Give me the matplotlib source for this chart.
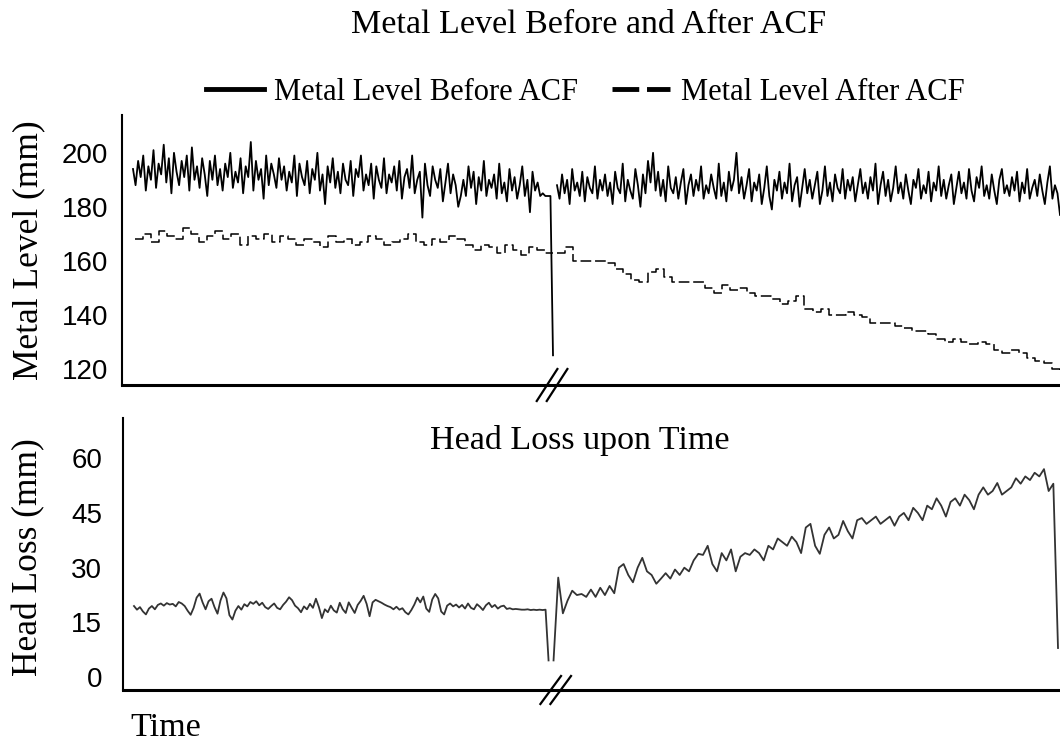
import matplotlib.pyplot as plt
import numpy as np
from matplotlib.lines import Line2D

plt.rcParams['font.family'] = ['Liberation Serif', 'DejaVu Serif']

# metal level before ACF (mm), left part ends with the drop at the break
level_before_left = [
    194, 188, 197, 191, 199, 186, 195, 190, 201, 187, 196, 192, 203, 189, 198, 185, 200, 193, 188, 197,
    191, 199, 186, 202, 190, 195, 187, 198, 192, 184, 197, 190, 199, 188, 194, 186, 196, 191, 200, 187,
    193, 189, 198, 185, 195, 191, 204, 186, 197, 190, 194, 183, 199, 188, 196, 192, 187, 198, 190, 195,
    186, 193, 189, 199, 184, 196, 191, 188, 197, 185, 194, 190, 200, 186, 192, 181, 195, 189, 198, 187,
    193, 185, 196, 190, 188, 197, 184, 194, 191, 199, 186, 192, 188, 196, 183, 195, 190, 187, 198, 185,
    192, 189, 195, 186, 197, 183, 191, 194, 187, 199, 185, 190, 193, 176, 196, 188, 184, 195, 190, 187,
    194, 182, 189, 196, 185, 192, 188, 180, 184, 190, 184, 195, 187, 193, 181, 191, 186, 197, 184, 190,
    187, 192, 183, 196, 185, 189, 182, 194, 186, 191, 183, 188, 195, 184, 190, 178, 193, 186, 189, 184,
    185, 184, 184, 184, 125,
]
level_before_right = [
    188, 183, 192, 185, 190, 181, 194, 186, 189, 184, 193, 182, 191, 187, 185, 195, 183, 190, 186, 192,
    184, 189, 181, 193, 187, 185, 196, 182, 190, 186, 183, 194, 188, 180, 192, 185, 197, 189, 200, 186,
    193, 184, 190, 182, 195, 187, 185, 191, 183, 189, 194, 181, 188, 192, 184, 190, 186, 195, 183, 188,
    185, 192, 187, 183, 196, 184, 189, 182, 193, 186, 190, 200, 185, 191, 183, 188, 194, 182, 189, 186,
    192, 181, 187, 195, 184, 179, 190, 186, 193, 183, 189, 185, 196, 182, 188, 191, 180, 187, 194, 185,
    190, 183, 188, 193, 181, 186, 195, 184, 189, 182, 192, 187, 185, 194, 183, 190, 186, 191, 182, 188,
    194, 185, 189, 183, 191, 186, 196, 181, 188, 193, 184, 190, 182, 187, 195, 185, 189, 183, 192, 186,
    181, 190, 187, 194, 183, 188, 185, 193, 182, 189, 186, 195, 184, 190, 183, 188, 192, 181, 187, 193,
    185, 189, 183, 194, 186, 182, 191, 187, 195, 184, 188, 183, 192, 186, 181, 190, 194, 185, 188, 184,
    191, 186, 193, 182, 189, 185, 194, 183, 187, 190, 184, 192, 186, 181, 189, 195, 183, 188, 185, 177,
]

# metal level after ACF (mm)
level_after_left = [
    168, 170, 167, 171, 169, 168, 172, 170, 167, 169, 171, 168, 170, 166, 169, 168, 170, 167, 169, 168,
    166, 168, 167, 165, 169, 167, 168, 166, 167, 169, 168, 166, 167, 168, 170, 167, 166, 168, 167, 169,
    168, 166, 164, 166, 165, 163, 166, 164, 162, 165, 164, 163, 163,
]
level_after_right = [
    163, 165, 160, 160, 160, 160, 159, 157, 155, 153, 152, 156, 157, 154, 152, 152, 152, 152, 150, 148,
    151, 149, 150, 148, 147, 147, 146, 144, 145, 147, 142, 141, 142, 140, 140, 141, 140, 139, 137, 137,
    137, 136, 135, 134, 134, 133, 131, 130, 131, 130, 129, 130, 129, 127, 126, 127, 126, 124, 123, 122,
    120, 119,
]

# head loss (mm)
head_loss_left = [
    19.5, 18.5, 19.2, 18.0, 17.2, 18.8, 19.5, 18.6, 19.8, 20.2, 19.6, 20.3, 19.9, 20.1, 19.4, 20.6, 20.2, 19.5, 18.2, 17.1,
    19.0, 21.8, 22.9, 20.5, 18.6, 20.8, 21.5, 19.2, 17.4, 21.0, 23.2, 21.6, 17.0, 15.8, 18.2, 19.5, 18.5, 20.0, 19.4, 20.6,
    20.1, 20.8, 19.7, 20.4, 19.2, 18.7, 19.5, 20.2, 19.0, 18.6, 19.8, 20.7, 21.9, 21.1, 19.6, 18.9, 17.8, 19.4, 18.6, 20.1,
    19.0, 21.5, 19.2, 16.2, 18.6, 17.8, 19.6, 18.3, 17.7, 20.4, 18.6, 17.6, 20.5, 19.0, 17.6, 19.8, 20.9, 22.3, 20.1, 16.7,
    20.5, 21.2, 20.8, 20.4, 19.9, 19.5, 19.2, 18.6, 19.3, 18.5, 18.9, 17.8, 17.2, 18.4, 19.9, 21.8, 20.5, 22.1, 18.8, 17.9,
    21.3, 22.8, 21.6, 18.0, 17.2, 19.6, 20.2, 19.4, 19.9, 19.1, 19.8, 18.8, 20.2, 19.0, 18.6, 20.0, 19.3, 18.4, 19.7, 20.4,
    19.2, 19.8, 18.8, 19.4, 19.6, 18.7, 18.9, 18.6, 18.7, 18.6, 18.5, 18.5, 18.6, 18.4, 18.5, 18.4, 18.5, 18.4, 18.5, 4.6,
]
head_loss_right = [
    4.6, 27.3, 17.5, 21, 23.7, 22.5, 22.8, 22, 24, 22,
    24.5, 22.5, 25, 23, 30, 31, 28, 26, 30, 32.7,
    29, 28, 25.6, 27, 28.5, 27, 29.5, 28, 30, 29,
    32, 33.8, 33.5, 36, 31, 29, 34, 32, 35, 29,
    33, 34, 33.5, 35, 34, 32, 36, 35, 38, 37,
    36, 38.5, 37, 34, 41, 42, 36, 33.8, 39, 41,
    38, 39, 42.8, 40, 38, 43, 43.6, 42, 43, 44,
    42, 43, 44, 41.5, 44, 45, 43, 46.4, 45, 43,
    47, 46, 49, 47, 44, 48, 49, 47, 50, 48.5,
    46, 50, 52, 50, 51, 53.2, 50, 51, 52, 54.5,
    53, 55, 54, 56, 55, 57, 51, 53, 8,
]

top_ticks = [120, 140, 160, 180, 200]
bottom_ticks = [0, 15, 30, 45, 60]

# time axis, arbitrary units (the break sits around t = 430)
T_END = 938
t_before_left = np.linspace(11, 431, len(level_before_left))
t_before_right = np.linspace(435, 938, len(level_before_right))
t_after_left = np.linspace(13, 431, len(level_after_left))
t_after_right = np.linspace(435, 938, len(level_after_right))
t_head_left = np.linspace(11, 426, len(head_loss_left))
t_head_right = np.linspace(431, 936, len(head_loss_right))

fig = plt.figure(figsize=(10.6, 7.42), dpi=100)
ax1 = fig.add_axes([122 / 1060, 1 - 385 / 742, 938 / 1060, 270 / 742])
ax2 = fig.add_axes([123 / 1060, 1 - 690 / 742, 937 / 1060, 272 / 742])

ax1.plot(t_before_left, level_before_left, color='black', lw=1.3)
ax1.plot(t_before_right, level_before_right, color='black', lw=1.3)
dash = (0, (7, 2.5))
ax1.plot(t_after_left, level_after_left, color='black', lw=1.1, ls=dash, drawstyle='steps-post')
ax1.plot(t_after_right, level_after_right, color='black', lw=1.1, ls=dash, drawstyle='steps-post')
ax1.set_ylim(114, 214)
ax1.set_yticks(top_ticks)

ax2.plot(t_head_left, head_loss_left, color='#333333', lw=1.3)
ax2.plot(t_head_right, head_loss_right, color='#333333', lw=1.3)
ax2.set_ylim(-3.5, 71)
ax2.set_yticks(bottom_ticks)

for ax, pad in ((ax1, 10), (ax2, 15)):
    ax.set_xlim(0, T_END)
    ax.set_xticks([])
    ax.spines[['top', 'right']].set_visible(False)
    ax.spines['left'].set_linewidth(1.5)
    ax.spines['bottom'].set_linewidth(2.2)
    ax.tick_params(axis='y', length=0, pad=pad, labelsize=20)
    for lab in ax.get_yticklabels():
        lab.set_family('Liberation Sans')

# axis break marks
for ax, xc, h in ((ax1, 0.4585, 16 / 270), (ax2, 0.4618, 14 / 272)):
    for off in (-5 / 938, 5 / 938):
        ax.plot([xc + off - 0.011, xc + off + 0.011], [-h, h], transform=ax.transAxes,
                color='black', lw=1.6, clip_on=False)

fig.text(589 / 1060, 1 - 25 / 742, 'Metal Level Before and After ACF', ha='center', va='center', fontsize=24.5)
ax2.text(580 / 1060, 1 - 441 / 742, 'Head Loss upon Time', transform=fig.transFigure,
         ha='center', va='center', fontsize=24.5)
fig.text(29 / 1060, 1 - 250 / 742, 'Metal Level (mm)', rotation=90, ha='center', va='center', fontsize=25.5)
fig.text(29 / 1060, 1 - 557 / 742, 'Head Loss (mm)', rotation=90, ha='center', va='center', fontsize=25.5)
fig.text(130 / 1060, 1 - 728 / 742, 'Time', ha='left', va='center', fontsize=24.5)

handles = [Line2D([], [], color='black', lw=3.5),
           Line2D([], [], color='black', lw=3.5, ls=(0, (5.5, 1.6)))]
fig.legend(handles, ['Metal Level Before ACF', 'Metal Level After ACF'], loc='center',
           bbox_to_anchor=(585 / 1060, 1 - 92 / 742), ncol=2, frameon=False, fontsize=22,
           handlelength=1.9, handletextpad=0.35, columnspacing=1.1)

fig.savefig('out.png', dpi=100)
